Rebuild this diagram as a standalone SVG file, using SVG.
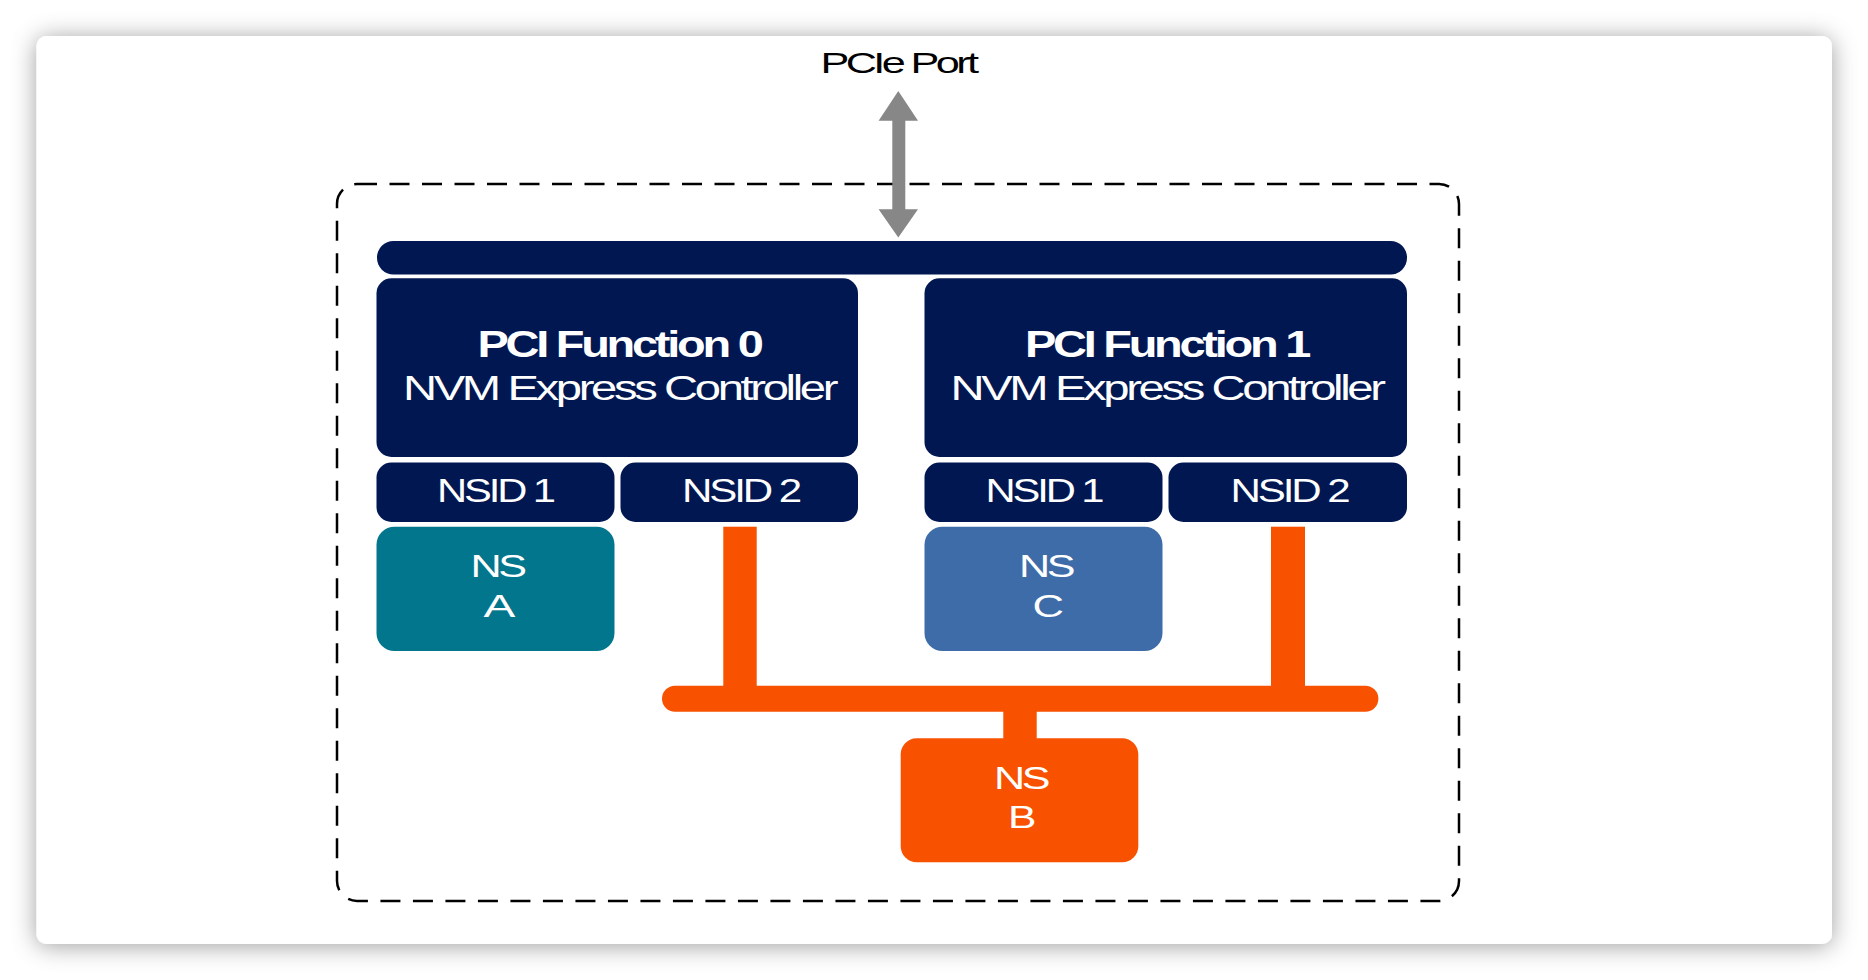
<svg xmlns="http://www.w3.org/2000/svg" width="1868" height="980" viewBox="0 0 1868 980">
<defs>
<filter id="shadow" x="-5%" y="-8%" width="110%" height="116%">
<feDropShadow dx="0" dy="2" stdDeviation="12" flood-color="#000" flood-opacity="0.38"/>
</filter>
<style>
.navy{fill:#011752}
.t{font-family:"Liberation Sans",Arial,sans-serif;fill:#fff;text-anchor:middle;letter-spacing:-2.5px}
.b{font-weight:bold}
.orange{fill:#F85100}
</style>
</defs>
<rect x="0" y="0" width="1868" height="980" fill="#fff"/>
<rect x="36.5" y="36" width="1795.5" height="908" rx="10" fill="#fff" filter="url(#shadow)"/>
<rect id="boundary" x="337" y="184" width="1122" height="717" rx="20" fill="none" stroke="#000" stroke-width="2.5" stroke-dasharray="20 12.5"/>
<text id="pcie-label" x="898" y="73.3" font-size="30" textLength="155" lengthAdjust="spacingAndGlyphs" class="t" style="fill:#000">PCIe Port</text>
<g id="bus"><rect class="navy" x="377" y="241" width="1030" height="33.5" rx="16.5"/></g>
<g id="fn0">
<rect class="navy" x="376.5" y="278.3" width="481.5" height="178.7" rx="15"/>
<text class="t b" x="619" y="356.7" font-size="36" textLength="283" lengthAdjust="spacingAndGlyphs">PCI Function 0</text>
<text class="t" x="619" y="400" font-size="35" textLength="432" lengthAdjust="spacingAndGlyphs">NVM Express Controller</text>
</g>
<g id="fn1">
<rect class="navy" x="924.5" y="278.3" width="482.5" height="178.7" rx="15"/>
<text class="t b" x="1166.5" y="356.7" font-size="36" textLength="283" lengthAdjust="spacingAndGlyphs">PCI Function 1</text>
<text class="t" x="1166.5" y="400" font-size="35" textLength="432" lengthAdjust="spacingAndGlyphs">NVM Express Controller</text>
</g>
<g id="fn0-nsid1"><rect class="navy" x="376.5" y="462.5" width="238" height="59.5" rx="15"/><text class="t" x="495" y="501.7" font-size="34" textLength="116" lengthAdjust="spacingAndGlyphs">NSID 1</text></g>
<g id="fn0-nsid2"><rect class="navy" x="620.5" y="462.5" width="237.5" height="59.5" rx="15"/><text class="t" x="740.5" y="501.7" font-size="34" textLength="117" lengthAdjust="spacingAndGlyphs">NSID 2</text></g>
<g id="fn1-nsid1"><rect class="navy" x="924.5" y="462.5" width="238" height="59.5" rx="15"/><text class="t" x="1043.5" y="501.7" font-size="34" textLength="116" lengthAdjust="spacingAndGlyphs">NSID 1</text></g>
<g id="fn1-nsid2"><rect class="navy" x="1168.5" y="462.5" width="238.5" height="59.5" rx="15"/><text class="t" x="1289" y="501.7" font-size="34" textLength="117" lengthAdjust="spacingAndGlyphs">NSID 2</text></g>
<g id="ns-a"><rect x="376.5" y="526.7" width="238" height="124.3" rx="18" fill="#02768D"/><text class="t" x="497" y="577.3" font-size="31" textLength="53" lengthAdjust="spacingAndGlyphs">NS</text><text class="t" x="497.5" y="616.7" font-size="31" textLength="28" lengthAdjust="spacingAndGlyphs">A</text></g>
<g id="ns-c"><rect x="924.5" y="526.7" width="238" height="124.3" rx="18" fill="#3D6CA8"/><text class="t" x="1045.5" y="577.3" font-size="31" textLength="53" lengthAdjust="spacingAndGlyphs">NS</text><text class="t" x="1046.5" y="616.7" font-size="31" textLength="28" lengthAdjust="spacingAndGlyphs">C</text></g>
<g id="connectors">
<polygon fill="#878787" points="898.3,91 918,120.7 905.3,120.7 905.3,209.3 918,209.3 898.3,237.5 878.6,209.3 892.3,209.3 892.3,120.7 878.6,120.7"/>
<rect class="orange" x="723.3" y="526.7" width="33.4" height="165"/>
<rect class="orange" x="1271" y="526.7" width="34" height="165"/>
<rect class="orange" x="662" y="685.7" width="716.4" height="26" rx="13"/>
<rect class="orange" x="1003.3" y="710" width="33.4" height="30"/>
</g>
<g id="ns-b"><rect class="orange" x="900.7" y="738.3" width="237.6" height="124" rx="16"/><text class="t" x="1020.5" y="789.3" font-size="31" textLength="53" lengthAdjust="spacingAndGlyphs">NS</text><text class="t" x="1020.5" y="828.3" font-size="31" textLength="25" lengthAdjust="spacingAndGlyphs">B</text></g>
</svg>
